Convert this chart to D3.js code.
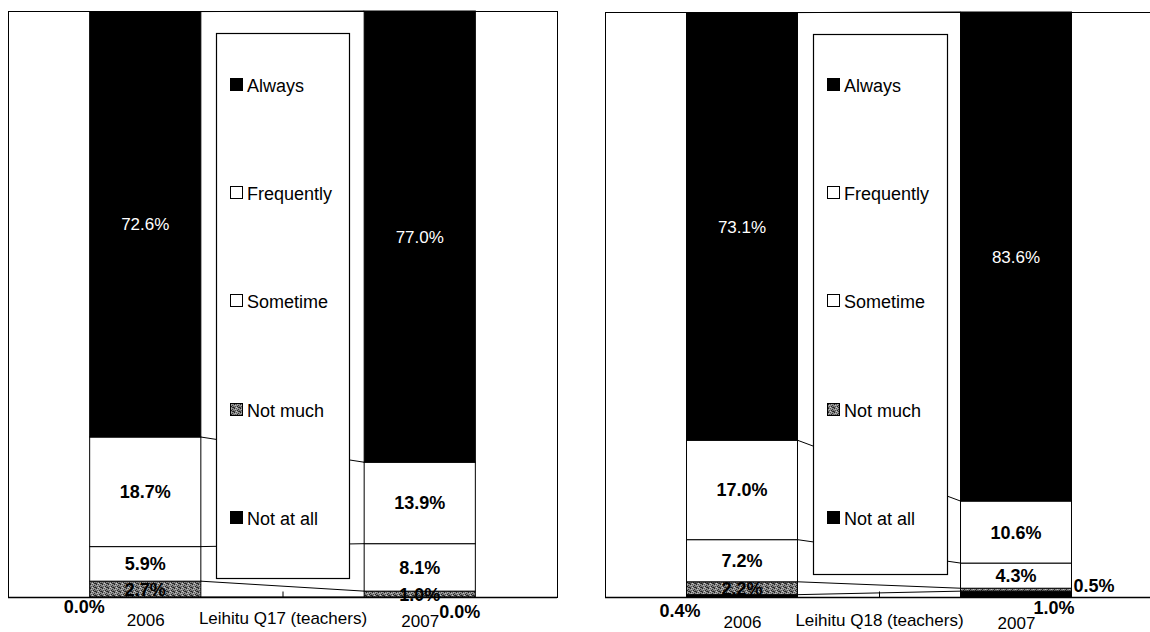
<!DOCTYPE html>
<html><head><meta charset="utf-8">
<script src="https://cdn.jsdelivr.net/npm/d3@7"></script>
<style>
html,body{margin:0;padding:0;background:#fff;}
svg{display:block;font-family:"Liberation Sans",Arial,sans-serif;}
</style></head>
<body>
<svg id="c" width="1150" height="632"></svg>
<script>
// ---- data ----
const seriesNames = ["Not at all", "Not much", "Sometime", "Frequently", "Always"];
const legendOrder = ["Always", "Frequently", "Sometime", "Not much", "Not at all"];
const categoriesQ17 = ["2006", "Leihitu Q17 (teachers)", "2007"];
const categoriesQ18 = ["2006", "Leihitu Q18 (teachers)", "2007"];
const barYears = ["2006", "2007"];
const q17_2006 = [0.0, 2.7, 5.9, 18.7, 72.6];
const q17_2007 = [0.0, 1.0, 8.1, 13.9, 77.0];
const q18_2006 = [0.4, 2.2, 7.2, 17.0, 73.1];
const q18_2007 = [1.0, 0.5, 4.3, 10.6, 83.6];

// ---- layout / style ----
const charts = [
  {cats: categoriesQ17, vals: {"2006": q17_2006, "2007": q17_2007},
   plot: {x0: 8, x1: 557, y0: 11, y1: 597},
   legend: {x: 216, y: 33, w: 133, h: 545},
   catBaseline: [625, 623, 626],
   outside: {"2006|Not at all": {ax: "barLeft", dx: 15, y: 613, anchor: "end"},
             "2007|Not at all": {ax: "barRight", dx: -36, y: 618, anchor: "start"}}},
  {cats: categoriesQ18, vals: {"2006": q18_2006, "2007": q18_2007},
   plot: {x0: 605, x1: 1153, y0: 12, y1: 597},
   legend: {x: 813, y: 34, w: 134, h: 540},
   catBaseline: [627, 625, 628],
   outside: {"2006|Not at all": {ax: "barLeft", dx: 14, y: 617, anchor: "end"},
             "2007|Not at all": {ax: "barRight", dx: -38, y: 614, anchor: "start"},
             "2007|Not much": {ax: "barRight", dx: 2, y: 592, anchor: "start"}}}
];
const legendRowY = [85, 193, 301, 410, 518];

const svg = d3.select("#c");
const defs = svg.append("defs");
// dithered grey pattern for "Not much"
const pat = defs.append("pattern").attr("id", "dither").attr("patternUnits", "userSpaceOnUse")
  .attr("width", 6).attr("height", 4);
pat.append("rect").attr("width", 6).attr("height", 4).attr("fill", "#8a8a8a");
[[0,0,"#222"],[2,0,"#555"],[4,1,"#333"],[1,1,"#bbb"],[3,2,"#222"],[5,2,"#666"],[0,3,"#444"],[2,3,"#ccc"],[4,3,"#333"],[1,2,"#555"],[3,0,"#aaa"],[5,3,"#222"]]
  .forEach(([x,y,c]) => pat.append("rect").attr("x", x).attr("y", y).attr("width", 1).attr("height", 1).attr("fill", c));

const fills = {"Not at all": "#000", "Not much": "url(#dither)", "Sometime": "#fff", "Frequently": "#fff", "Always": "#000"};

charts.forEach(ch => {
  const g = svg.append("g");
  const p = ch.plot;
  const x = d3.scalePoint().domain(ch.cats).range([p.x0, p.x1]).padding(1);
  const y = d3.scaleLinear().domain([0, 100]).range([p.y1, p.y0]);
  const bw = x.step() * 0.81;

  const rows = barYears.map(yr => {
    const r = {cat: yr};
    seriesNames.forEach((s, i) => r[s] = ch.vals[yr][i]);
    return r;
  });
  const stacked = d3.stack().keys(seriesNames)(rows);

  // plot frame
  g.append("rect").attr("x", p.x0 + 0.5).attr("y", p.y0 + 0.5)
    .attr("width", p.x1 - p.x0).attr("height", p.y1 - p.y0)
    .attr("fill", "#fff").attr("stroke", "#000").attr("stroke-width", 1);

  // axis (ticks pointing up)
  const ax = g.append("g").attr("transform", `translate(0,${p.y1 + 0.5})`)
    .call(d3.axisBottom(x).tickSizeInner(-6).tickSizeOuter(0).tickPadding(19));
  ax.select(".domain").remove();
  ax.selectAll(".tick line").attr("stroke", "#000");
  ax.selectAll(".tick text").attr("font-size", 17).attr("fill", "#000")
    .attr("font-family", "'Liberation Sans',Arial,sans-serif")
    .attr("dy", null).attr("y", (d, i) => ch.catBaseline[i] - p.y1);

  // series lines
  stacked.forEach(layer => {
    const a = layer[0], b = layer[1];
    g.append("line")
      .attr("x1", x("2006") + bw / 2).attr("y1", y(a[1]))
      .attr("x2", x("2007") - bw / 2).attr("y2", y(b[1]))
      .attr("stroke", "#000").attr("stroke-width", 1);
  });

  // bars
  stacked.forEach(layer => {
    g.selectAll(null).data(layer).enter().append("rect")
      .attr("x", d => x(d.data.cat) - bw / 2)
      .attr("y", d => y(d[1]))
      .attr("width", bw)
      .attr("height", d => Math.max(0, y(d[0]) - y(d[1])))
      .attr("fill", fills[layer.key])
      .attr("stroke", "#000").attr("stroke-width", 1);
  });

  // bottom axis line
  g.append("line").attr("x1", p.x0).attr("x2", p.x1).attr("y1", p.y1 + 0.5).attr("y2", p.y1 + 0.5)
    .attr("stroke", "#000").attr("stroke-width", 1.5);

  // legend
  const L = ch.legend;
  const lg = g.append("g");
  lg.append("rect").attr("x", L.x + 0.5).attr("y", L.y + 0.5).attr("width", L.w).attr("height", L.h)
    .attr("fill", "#fff").attr("stroke", "#000").attr("stroke-width", 1.2);
  legendOrder.forEach((s, i) => {
    const cy = legendRowY[i];
    lg.append("rect").attr("x", L.x + 14.5).attr("y", cy - 6.5).attr("width", 12).attr("height", 12)
      .attr("fill", fills[s]).attr("stroke", "#000").attr("stroke-width", 1);
    lg.append("text").attr("x", L.x + 31).attr("y", cy + 6.5).attr("font-size", 18).attr("fill", "#000").text(s);
  });

  // labels
  stacked.forEach(layer => {
    layer.forEach(d => {
      const key = d.data.cat + "|" + layer.key;
      const v = d.data[layer.key];
      const txt = v.toFixed(1) + "%";
      const cx = x(d.data.cat);
      const o = ch.outside[key];
      const t = g.append("text").text(txt);
      if (o) {
        const base = o.ax === "barLeft" ? cx - bw / 2 : cx + bw / 2;
        t.attr("x", base + o.dx).attr("y", o.y).attr("text-anchor", o.anchor)
          .attr("font-size", 18).attr("font-weight", "bold").attr("fill", "#000");
      } else {
        const my = (y(d[0]) + y(d[1])) / 2;
        t.attr("x", cx).attr("y", my).attr("dy", "0.36em").attr("text-anchor", "middle");
        if (layer.key === "Always") {
          t.attr("font-size", 17).attr("fill", "#fff");
        } else {
          t.attr("font-size", 18).attr("font-weight", "bold").attr("fill", "#000");
        }
      }
    });
  });
});
</script>
</body></html>
